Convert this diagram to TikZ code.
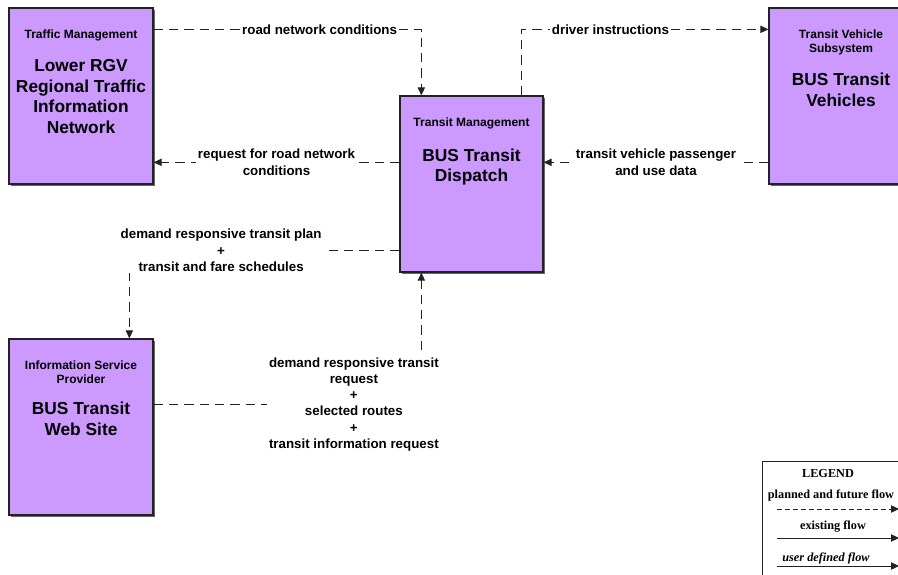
\documentclass[tikz,border=0pt]{standalone}
\usepackage{fontspec}
\setmainfont{Liberation Sans}
\newfontfamily\legfont{Liberation Serif}
\usetikzlibrary{arrows.meta,positioning,calc,shadows}
\definecolor{lilac}{HTML}{CC99FF}
\definecolor{ink}{HTML}{222222}
\tikzset{sys/.style={draw=ink,line width=1pt,fill=lilac,minimum width=108pt,minimum height=132pt,inner sep=0pt,drop shadow={shadow xshift=1.2pt,shadow yshift=-1.2pt,fill=black!60,opacity=1}},
hd/.style={align=center,inner sep=0pt,font=\bfseries\fontsize{9pt}{10.5pt}\selectfont},
bd/.style={align=center,inner sep=0pt,font=\bfseries\fontsize{13pt}{15.5pt}\selectfont},
lbl/.style={fill=white,align=center,inner sep=1.5pt,font=\bfseries\fontsize{10pt}{12.2pt}\selectfont},
flow/.style={draw=ink,line width=.75pt,dash pattern=on 7pt off 4.5pt,-{Triangle[length=6pt,width=5.5pt]}},
legtxt/.style={inner sep=0pt,font=\legfont\bfseries\fontsize{9.2pt}{10pt}\selectfont}}
\begin{document}
\begin{tikzpicture}[x=0.75pt,y=-0.75pt]
\path[use as bounding box,fill=white](0,0)rectangle(898,574);\clip(0,0)rectangle(898,574);
\node[sys](tm)at(81,96){};\node[sys](tvs)at(841,96){};\node[sys,minimum width=107.25pt](disp)at(471.5,184){};\node[sys](isp)at(81,427){};
\node[hd,below=17pt of tm.north](tmhd){Traffic Management};\node[bd,below=13pt of tmhd](tmbd){Lower RGV\\Regional Traffic\\Information\\Network};
\node[hd,below=17pt of tvs.north](tvshd){Transit Vehicle\\Subsystem};\node[bd,below=13pt of tvshd](tvsbd){BUS Transit\\Vehicles};
\node[hd,below=17pt of disp.north](disphd){Transit Management};\node[bd,below=14pt of disphd](dispbd){BUS Transit\\Dispatch};
\node[hd,below=17pt of isp.north](isphd){Information Service\\Provider};\node[bd,below=13pt of isphd](ispbd){BUS Transit\\Web Site};
\draw[flow]($(tm.north east)+(0,22)$)-|node[lbl,pos=.31]{road network conditions}($(disp.north west)+(22,0)$);
\draw[flow]($(disp.north west)+(0,67)$)--node[lbl]{request for road network\\conditions}($(tm.north east)+(0,155)$);
\draw[flow]($(disp.north east)+(-22,0)$)|-node[lbl,pos=.68]{driver instructions}($(tvs.north west)+(0,22)$);
\draw[flow]($(tvs.north west)+(0,155)$)--node[lbl]{transit vehicle passenger\\and use data}($(disp.north east)+(0,67)$);
\draw[flow]($(disp.north west)+(0,155)$)-|node[lbl,pos=.33]{demand responsive transit plan\\+\\transit and fare schedules}($(isp.north west)+(121,0)$);
\draw[flow]($(isp.north east)+(0,66)$)-|node[lbl,pos=.374]{demand responsive transit\\request\\+\\selected routes\\+\\transit information request}($(disp.south west)+(22,0)$);
\node[draw=ink,line width=1pt,minimum width=105pt,minimum height=90pt,anchor=north west](legend)at(762,461){};
\node[legtxt](legt)at(828,473){LEGEND};\node[legtxt](legp)at(831,495){planned and future flow};
\node[legtxt](lege)at(833,527){existing flow};\node[legtxt](legu)at(826,558){\itshape user defined flow};
\coordinate(pa)at(777,509);\coordinate(pb)at(899,509);\coordinate(ea)at(777,538);\coordinate(eb)at(899,538);\coordinate(ua)at(777,566);\coordinate(ub)at(899,566);
\draw[flow,dash pattern=on 3.5pt off 2.5pt](pa)--(pb);\draw[flow,solid](ea)--(eb);\draw[flow,solid](ua)--(ub);
\end{tikzpicture}
\end{document}
